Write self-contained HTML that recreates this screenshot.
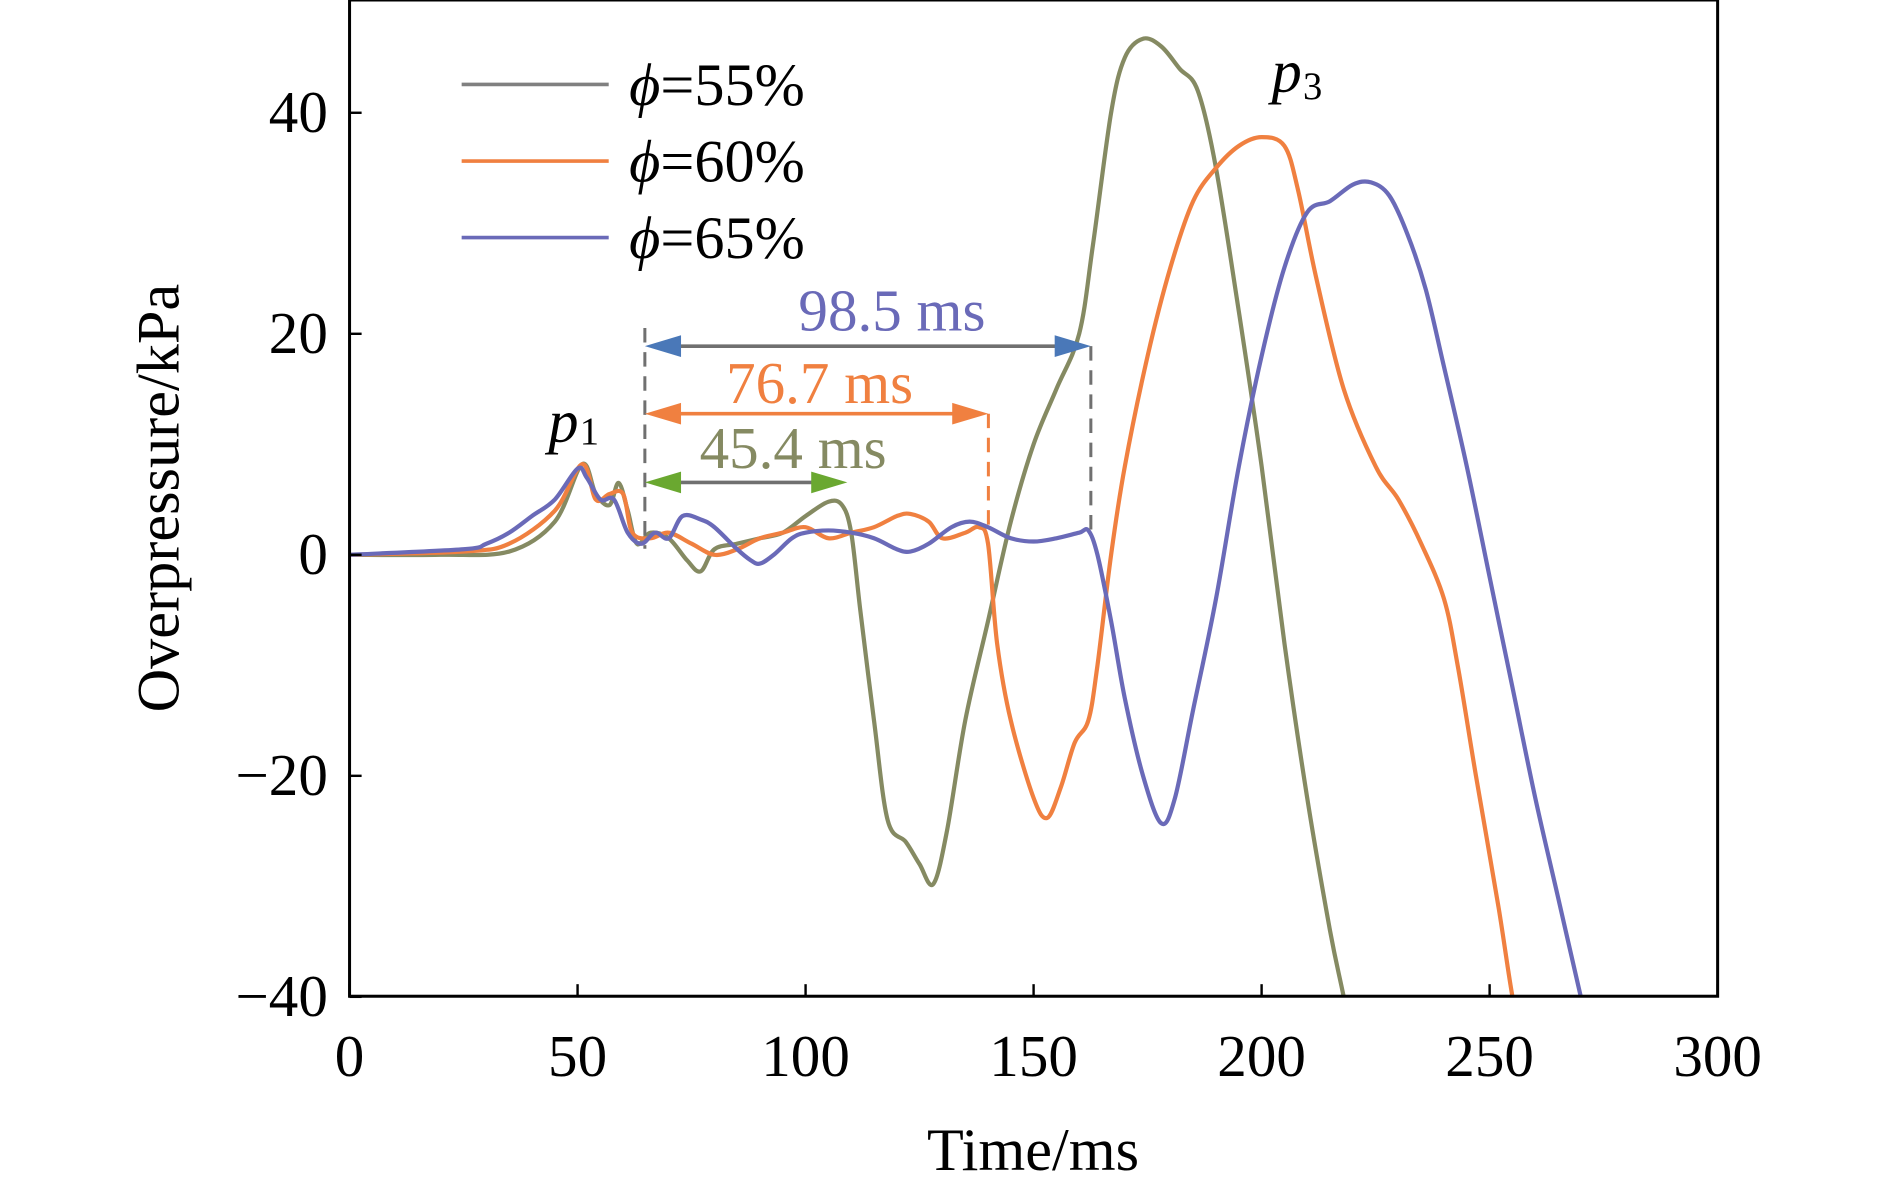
<!DOCTYPE html>
<html><head><meta charset="utf-8"><style>
html,body{margin:0;padding:0;background:#fff;}
svg{display:block;}
text{font-family:"Liberation Serif",serif;}
</style></head><body>
<svg id="chart" width="1890" height="1188" viewBox="0 0 1568 985" preserveAspectRatio="none" xmlns="http://www.w3.org/2000/svg">
<defs><clipPath id="pc"><rect x="290" y="0" width="1135" height="826"/></clipPath></defs>
<g id="series" clip-path="url(#pc)"></g>
<g id="axes"></g>
<g id="annot"></g>
</svg>
<script>
const xTicks=[0,50,100,150,200,250,300];
const yTicks=[-40,-20,0,20,40];
const seriesNames=["=55%","=60%","=65%"];
const t55=[0,20,35,45,51,54,57,59,61,63,66,70,74,77,80,85,90,95,100,105,108,110,112,115,118,122,125,128,131,135,140,145,150,155,160,163,167,170,174,178,182,186,190,195,200,205,210,215,218,222];
const p55=[0,0,0.3,3,8.2,5.5,4.5,6.5,4,1,2,1.5,-0.5,-1.5,0.5,1,1.5,2,3.5,4.8,4.5,2,-5,-15,-24,-26,-28,-29.8,-25,-15,-6,3,10,15,20,28,40,45,46.7,46,44,42,35,22,8,-8,-22,-34,-40,-48];
const t60=[0,25,35,45,51,54,57,60,62,66,70,75,80,85,90,95,100,105,110,115,120,123,127,130,135,138,140,142,145,150,153,156,159,162,164,167,170,175,180,185,190,195,200,205,208,212,218,225,230,235,240,243,247,252,255,258];
const p60=[0,0.3,1,4,8.2,5,5.5,5.5,2,1.5,2,1,0,0.5,1.5,2,2.5,1.5,2,2.5,3.5,3.7,3,1.5,2,2.5,1,-8,-15,-22,-23.8,-21,-17,-15,-10,0,8,18,26,32,35,37,37.8,37,33,25,15,8,5,1,-4,-10,-20,-32,-40,-46];
const t65=[0,25,30,35,40,45,50,52,55,58,61,64,67,70,73,77,80,85,88,90,93,97,100,105,110,115,120,123,127,132,136,140,145,150,155,160,162,164,167,170,174,178,181,185,190,195,200,205,210,215,220,224,228,232,236,240,245,250,255,260,265,270,273];
const p65=[0,0.5,1,2,3.5,5,7.8,7,5,5,2,1,2,1.5,3.5,3.2,2.5,0.5,-0.5,-0.8,0,1.5,2,2.2,2,1.5,0.5,0.3,1,2.5,3,2.5,1.5,1.2,1.5,2,2.2,0,-6,-13,-20,-24.3,-22,-14,-4,8,18,26,31,32,33.5,33.7,32.5,29,24,17,8,-2,-12,-22,-31,-40,-45];
const colors=["#858a62","#f08040","#6a6ab8"];
const legendColors=["#808080","#f08040","#6a6ab8"];
const X0=290,X1=1425,Y0=826,Ytop=0;
const xs=v=>X0+(v-0)/(300-0)*(X1-X0);
const ys=v=>460-v*(366.5/40);
const NS="http://www.w3.org/2000/svg";
function mk(tag,attrs,parent,txt){const e=document.createElementNS(NS,tag);for(const k in attrs)e.setAttribute(k,attrs[k]);if(txt!==undefined)e.textContent=txt;parent.appendChild(e);return e;}
const gS=document.getElementById('series'),gA=document.getElementById('axes'),gN=document.getElementById('annot');
function smooth(P){let d=`M${P[0][0]},${P[0][1]}`;for(let i=0;i<P.length-1;i++){const p0=P[Math.max(0,i-1)],p1=P[i],p2=P[i+1],p3=P[Math.min(P.length-1,i+2)];const c1=[p1[0]+(p2[0]-p0[0])/6,p1[1]+(p2[1]-p0[1])/6],c2=[p2[0]-(p3[0]-p1[0])/6,p2[1]-(p3[1]-p1[1])/6];d+=` C${c1[0].toFixed(1)},${c1[1].toFixed(1)} ${c2[0].toFixed(1)},${c2[1].toFixed(1)} ${p2[0].toFixed(1)},${p2[1].toFixed(1)}`;}return d;}
const data=[[t55,p55],[t60,p60],[t65,p65]];
const names=["line-phi-55","line-phi-60","line-phi-65"];
data.forEach((d,i)=>{
  const P=d[0].map((t,j)=>[xs(t),ys(d[1][j])]);
  const pl=mk('path',{d:smooth(P),fill:"none",stroke:colors[i],"stroke-width":3.5,"stroke-linejoin":"round"},gS);
  
  
});
const fr=mk('rect',{x:X0,y:Ytop,width:X1-X0,height:Y0-Ytop,fill:"none",stroke:"#000","stroke-width":2.5},gA);


xTicks.forEach(v=>{
  mk('line',{x1:xs(v),x2:xs(v),y1:Y0,y2:Y0-10,stroke:"#000","stroke-width":2},gA);
  const t=mk('text',{x:xs(v),y:892,"font-size":49,"text-anchor":"middle"},gA,String(v));
  
  
});
yTicks.forEach(v=>{
  mk('line',{x1:X0,x2:X0+10,y1:ys(v),y2:ys(v),stroke:"#000","stroke-width":2},gA);
  const t=mk('text',{x:272,y:ys(v)+16,"font-size":49,"text-anchor":"end"},gA,v<0?"\u2212"+(-v):String(v));
  
  
});
const xt=mk('text',{x:857,y:970,"font-size":50,"text-anchor":"middle"},gA,"Time/ms");


const yt=mk('text',{x:0,y:0,"font-size":50,"text-anchor":"middle",transform:"translate(148,413) rotate(-90)"},gA,"Overpressure/kPa");


seriesNames.forEach((n,i)=>{
  const y=70+i*63.5;
  const l=mk('line',{x1:383,x2:505,y1:y,y2:y,stroke:legendColors[i],"stroke-width":3},gA);
  
  
  const t=mk('text',{x:522,y:y+17,"font-size":50},gA);
  
  
  mk('tspan',{"font-style":"italic"},t,"\u03d5");
  mk('tspan',{},t,n);
});
function dash(x,y1,y2,c){mk('line',{x1:x,x2:x,y1:y1,y2:y2,stroke:c,"stroke-width":2.5,"stroke-dasharray":"12,8"},gN);}
dash(535,272,455,"#707070");dash(820,343,440,"#f08040");dash(905,287,440,"#707070");
function arrow(x1,x2,y,lc,hc,name){
  const g=mk('g',{},gN);
  mk('line',{x1:x1+20,x2:x2-20,y1:y,y2:y,stroke:lc,"stroke-width":3},g);
  mk('polygon',{points:`${x1},${y} ${x1+30},${y-9} ${x1+30},${y+9}`,fill:hc},g);
  mk('polygon',{points:`${x2},${y} ${x2-30},${y-9} ${x2-30},${y+9}`,fill:hc},g);
}
arrow(535,905,287,"#707070","#4a78b8","arrow-98-5");
arrow(535,820,343,"#f08040","#f08040","arrow-76-7");
arrow(535,703,400,"#707070","#6aa830","arrow-45-4");
function lab(x,y,c,s,name){const t=mk('text',{x:x,y:y,"font-size":49,"text-anchor":"middle",fill:c},gN,s);}
lab(740,274,"#6a6ab8","98.5 ms","label-98-5-ms");
lab(680,334,"#f08040","76.7 ms","label-76-7-ms");
lab(658,388,"#858a62","45.4 ms","label-45-4-ms");
const p1=mk('text',{x:455,y:366,"font-size":50,"font-style":"italic"},gN,"p");

mk('text',{x:481,y:368,"font-size":32},gN,"1");
const p3=mk('text',{x:1055,y:76,"font-size":50,"font-style":"italic"},gN,"p");

mk('text',{x:1081,y:82,"font-size":32},gN,"3");
</script>
</body></html>
